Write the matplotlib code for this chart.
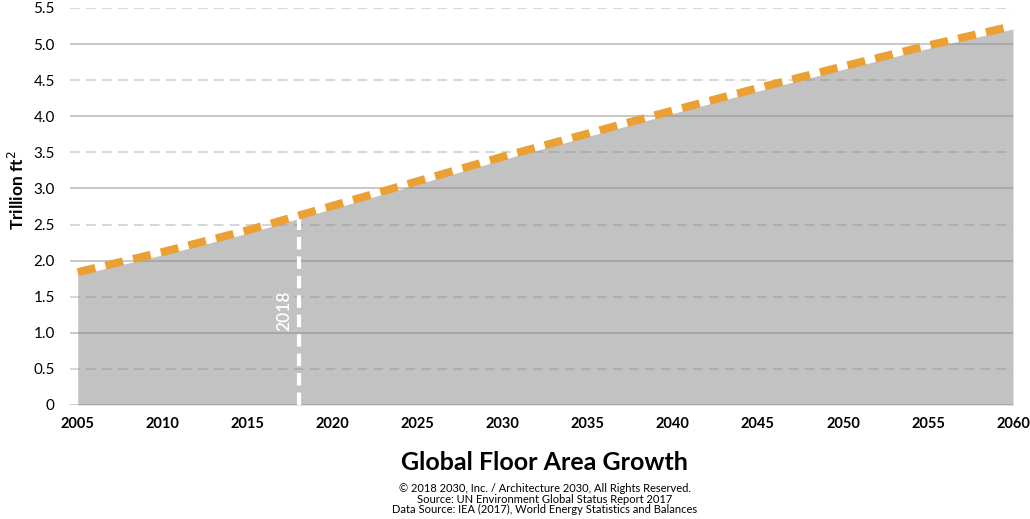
import matplotlib
matplotlib.use("Agg")
import matplotlib.pyplot as plt

plt.rcParams['font.family'] = ['Lato', 'DejaVu Sans']
plt.rcParams['lines.scale_dashes'] = False

# ---- data ----
years = [2005, 2010, 2015, 2020, 2025, 2030, 2035, 2040, 2045, 2050, 2055, 2060]
floor_area = [1.80, 2.08, 2.38, 2.72, 3.06, 3.40, 3.72, 4.04, 4.35, 4.65, 4.94, 5.21]
trend = [1.84, 2.12, 2.42, 2.76, 3.10, 3.44, 3.76, 4.08, 4.39, 4.69, 4.98, 5.25]
marker_year = 2018
marker_value = 2.58
xticks = [2005, 2010, 2015, 2020, 2025, 2030, 2035, 2040, 2045, 2050, 2055, 2060]
yticks = [0, 0.5, 1.0, 1.5, 2.0, 2.5, 3.0, 3.5, 4.0, 4.5, 5.0, 5.5]
ytick_labels = ['0', '0.5', '1.0', '1.5', '2.0', '2.5', '3.0', '3.5', '4.0', '4.5', '5.0', '5.5']

fig = plt.figure(figsize=(10.3, 5.19), dpi=100)
ax = fig.add_axes([0.068, 0.2197, 0.9155, 0.7649])

# grid lines (under semi-transparent area)
for v in yticks:
    if abs(v - round(v)) < 1e-9:
        ax.axhline(v, color='#c4c4c4', lw=1.3, zorder=1)
    else:
        ax.axhline(v, color='#cccccc', lw=1.1, zorder=1, dashes=(7, 4.5))

ax.fill_between(years, 0, floor_area, color='#878787', alpha=0.5, lw=0, zorder=2)

ln, = ax.plot(years, trend, color='#eaa033', lw=5.8, solid_capstyle='butt',
              dash_capstyle='butt', zorder=4)
ln.set_dashes((13, 7.5))

ax.plot([marker_year, marker_year], [0, marker_value], color='white', lw=3,
        dash_capstyle='butt', zorder=3, dashes=(9, 5))
ax.text(marker_year - 0.85, 1.31, str(marker_year), rotation=90, color='white',
        fontsize=12.5, fontweight='semibold', ha='center', va='center', zorder=5)

ax.set_xlim(2004.55, 2060)
ax.set_ylim(0, 5.5)
ax.set_xticks(xticks)
ax.set_xticklabels([str(x) for x in xticks], fontweight='bold', fontsize=10.5)
ax.set_yticks(yticks)
ax.set_yticklabels(ytick_labels, fontsize=11)
ax.tick_params(length=0)
ax.tick_params(axis='x', pad=9)
ax.tick_params(axis='y', pad=11)
for s in ax.spines.values():
    s.set_visible(False)

ax.set_ylabel('Trillion ft$^2$', fontweight='bold', fontsize=12.5, va='center')
ax.yaxis.set_label_coords(-0.056, 0.54)

fig.text(0.529, 0.108, 'Global Floor Area Growth', ha='center', va='center',
         fontweight='bold', fontsize=18)
fig.text(0.529, 0.038,
         '© 2018 2030, Inc. / Architecture 2030, All Rights Reserved.\n'
         'Source: UN Environment Global Status Report 2017\n'
         'Data Source: IEA (2017), World Energy Statistics and Balances',
         ha='center', va='center', fontsize=8, linespacing=0.95)

fig.savefig('out.png', dpi=100)
